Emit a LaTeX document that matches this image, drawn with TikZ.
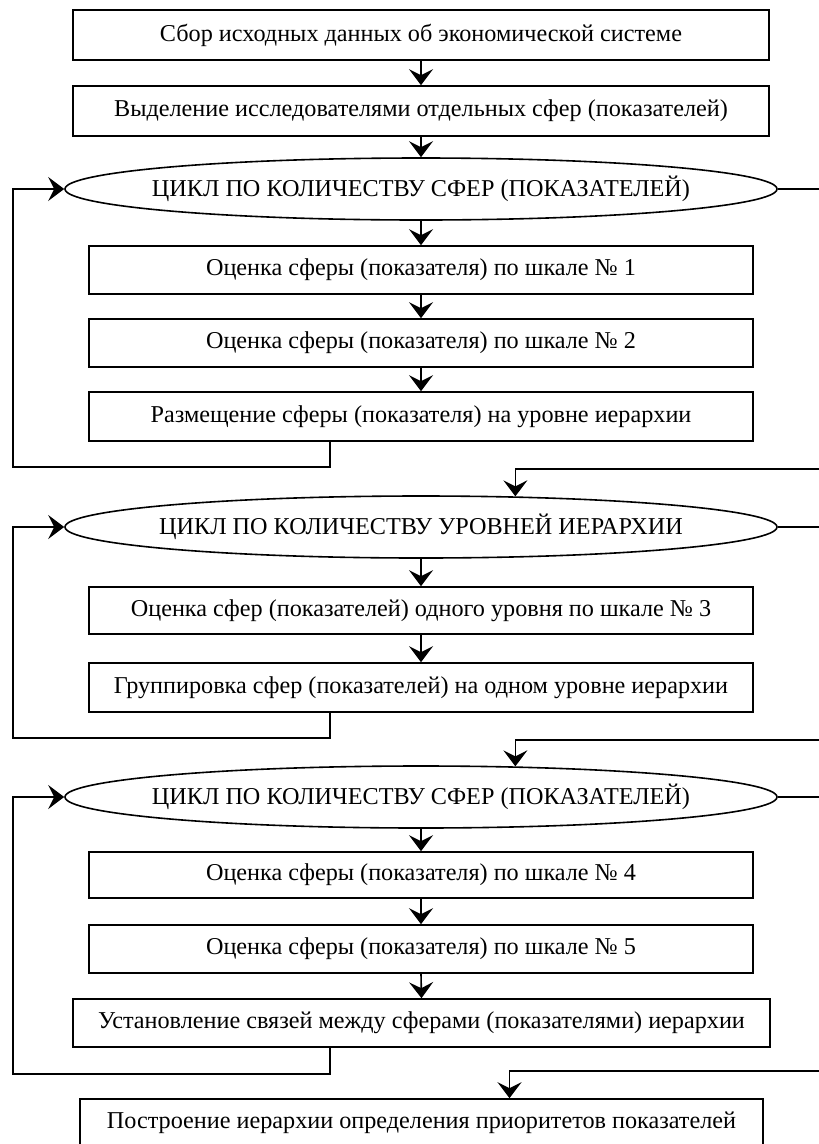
\documentclass[tikz,border=0pt]{standalone}
\usepackage{fontspec}
\setmainfont{Liberation Serif}
\usetikzlibrary{shapes.geometric,arrows.meta}
\newcommand\zerowd[1]{\makebox[0pt]{#1}}
\begin{document}
\begin{tikzpicture}[x=1pt,y=-1pt, line width=1.6pt,
  txt/.style={font=\fontsize{24.2}{28}\selectfont},
  box/.style={draw, rectangle, inner sep=0pt, txt},
  wide/.style={box, minimum width=696pt, minimum height=50pt},
  inner/.style={box, minimum width=664pt, minimum height=48pt},
  cyc/.style={draw, ellipse, inner sep=0pt, minimum width=712pt, minimum height=62pt, txt},
  arr/.style={-{Stealth[length=16pt,width=24pt,inset=6pt]}}]
\useasboundingbox (0,0) rectangle (819,1144);

\node[wide] (b1) at (421,35) {Сбор исходных данных об экономической системе};
\node[wide] (b2) at (421,111) {Выделение исследователями отдельных сфер (показателей)};
\node[cyc] (e1) at (421,189) {\zerowd{ЦИКЛ ПО КОЛИЧЕСТВУ СФЕР (ПОКАЗАТЕЛЕЙ)}};
\node[inner] (b3a) at (421,270) {Оценка сферы (показателя) по шкале № 1};
\node[inner] (b3b) at (421,343) {Оценка сферы (показателя) по шкале № 2};
\node[inner, minimum height=49pt] (b3c) at (421,416.5) {Размещение сферы (показателя) на уровне иерархии};

\node[cyc] (e2) at (421,527) {\zerowd{ЦИКЛ ПО КОЛИЧЕСТВУ УРОВНЕЙ ИЕРАРХИИ}};
\node[inner, minimum height=47pt] (b4a) at (421,610.5) {Оценка сфер (показателей) одного уровня по шкале № 3};
\node[inner, minimum height=49pt] (b4b) at (421,687.5) {Группировка сфер (показателей) на одном уровне иерархии};

\node[cyc] (e3) at (421,797) {\zerowd{ЦИКЛ ПО КОЛИЧЕСТВУ СФЕР (ПОКАЗАТЕЛЕЙ)}};
\node[inner, minimum height=46pt] (b5a) at (421,875) {Оценка сферы (показателя) по шкале № 4};
\node[inner] (b5b) at (421,949) {Оценка сферы (показателя) по шкале № 5};
\node[box, minimum width=697pt, minimum height=48pt] (b5c) at (421.5,1023) {Установление связей между сферами (показателями) иерархии};

\node[box, minimum width=683pt, minimum height=48pt] (fin) at (421.5,1123) {Построение иерархии определения приоритетов показателей};

% main flow
\draw[arr] (b1.south) -- (b2.north);
\draw[arr] (b2.south) -- (e1.north);
\draw[arr] (e1.south) -- (b3a.north);
\draw[arr] (b3a.south) -- (b3b.north);
\draw[arr] (b3b.south) -- (b3c.north);
\draw[arr] (e2.south) -- (b4a.north);
\draw[arr] (b4a.south) -- (b4b.north);
\draw[arr] (e3.south) -- (b5a.north);
\draw[arr] (b5a.south) -- (b5b.north);
\draw[arr] (b5b.south) -- (b5c.north);

% loops back on the left
\coordinate (l1) at (13,467);
\coordinate (l2) at (13,738);
\coordinate (l3) at (13,1074);
\draw[arr] ([xshift=-91pt]b3c.south) |- (l1) |- (e1.west);
\draw[arr] ([xshift=-91pt]b4b.south) |- (l2) |- (e2.west);
\draw[arr] ([xshift=-91.5pt]b5c.south) |- (l3) |- (e3.west);

% exits on the right
\coordinate (r1) at (819,189);
\coordinate (r2) at (819,527);
\coordinate (r3) at (819,797);
\draw (e1.east) -- (r1);
\draw (e2.east) -- (r2);
\draw (e3.east) -- (r3);
\coordinate (s1) at (819,469);
\coordinate (s2) at (819,740);
\coordinate (s3) at (819,1071);
\draw[arr] (s1) -| (e2.18.5);
\draw[arr] (s2) -| (e3.18.5);
\draw[arr] (s3) -| ([xshift=88pt]fin.north);
\end{tikzpicture}
\end{document}
